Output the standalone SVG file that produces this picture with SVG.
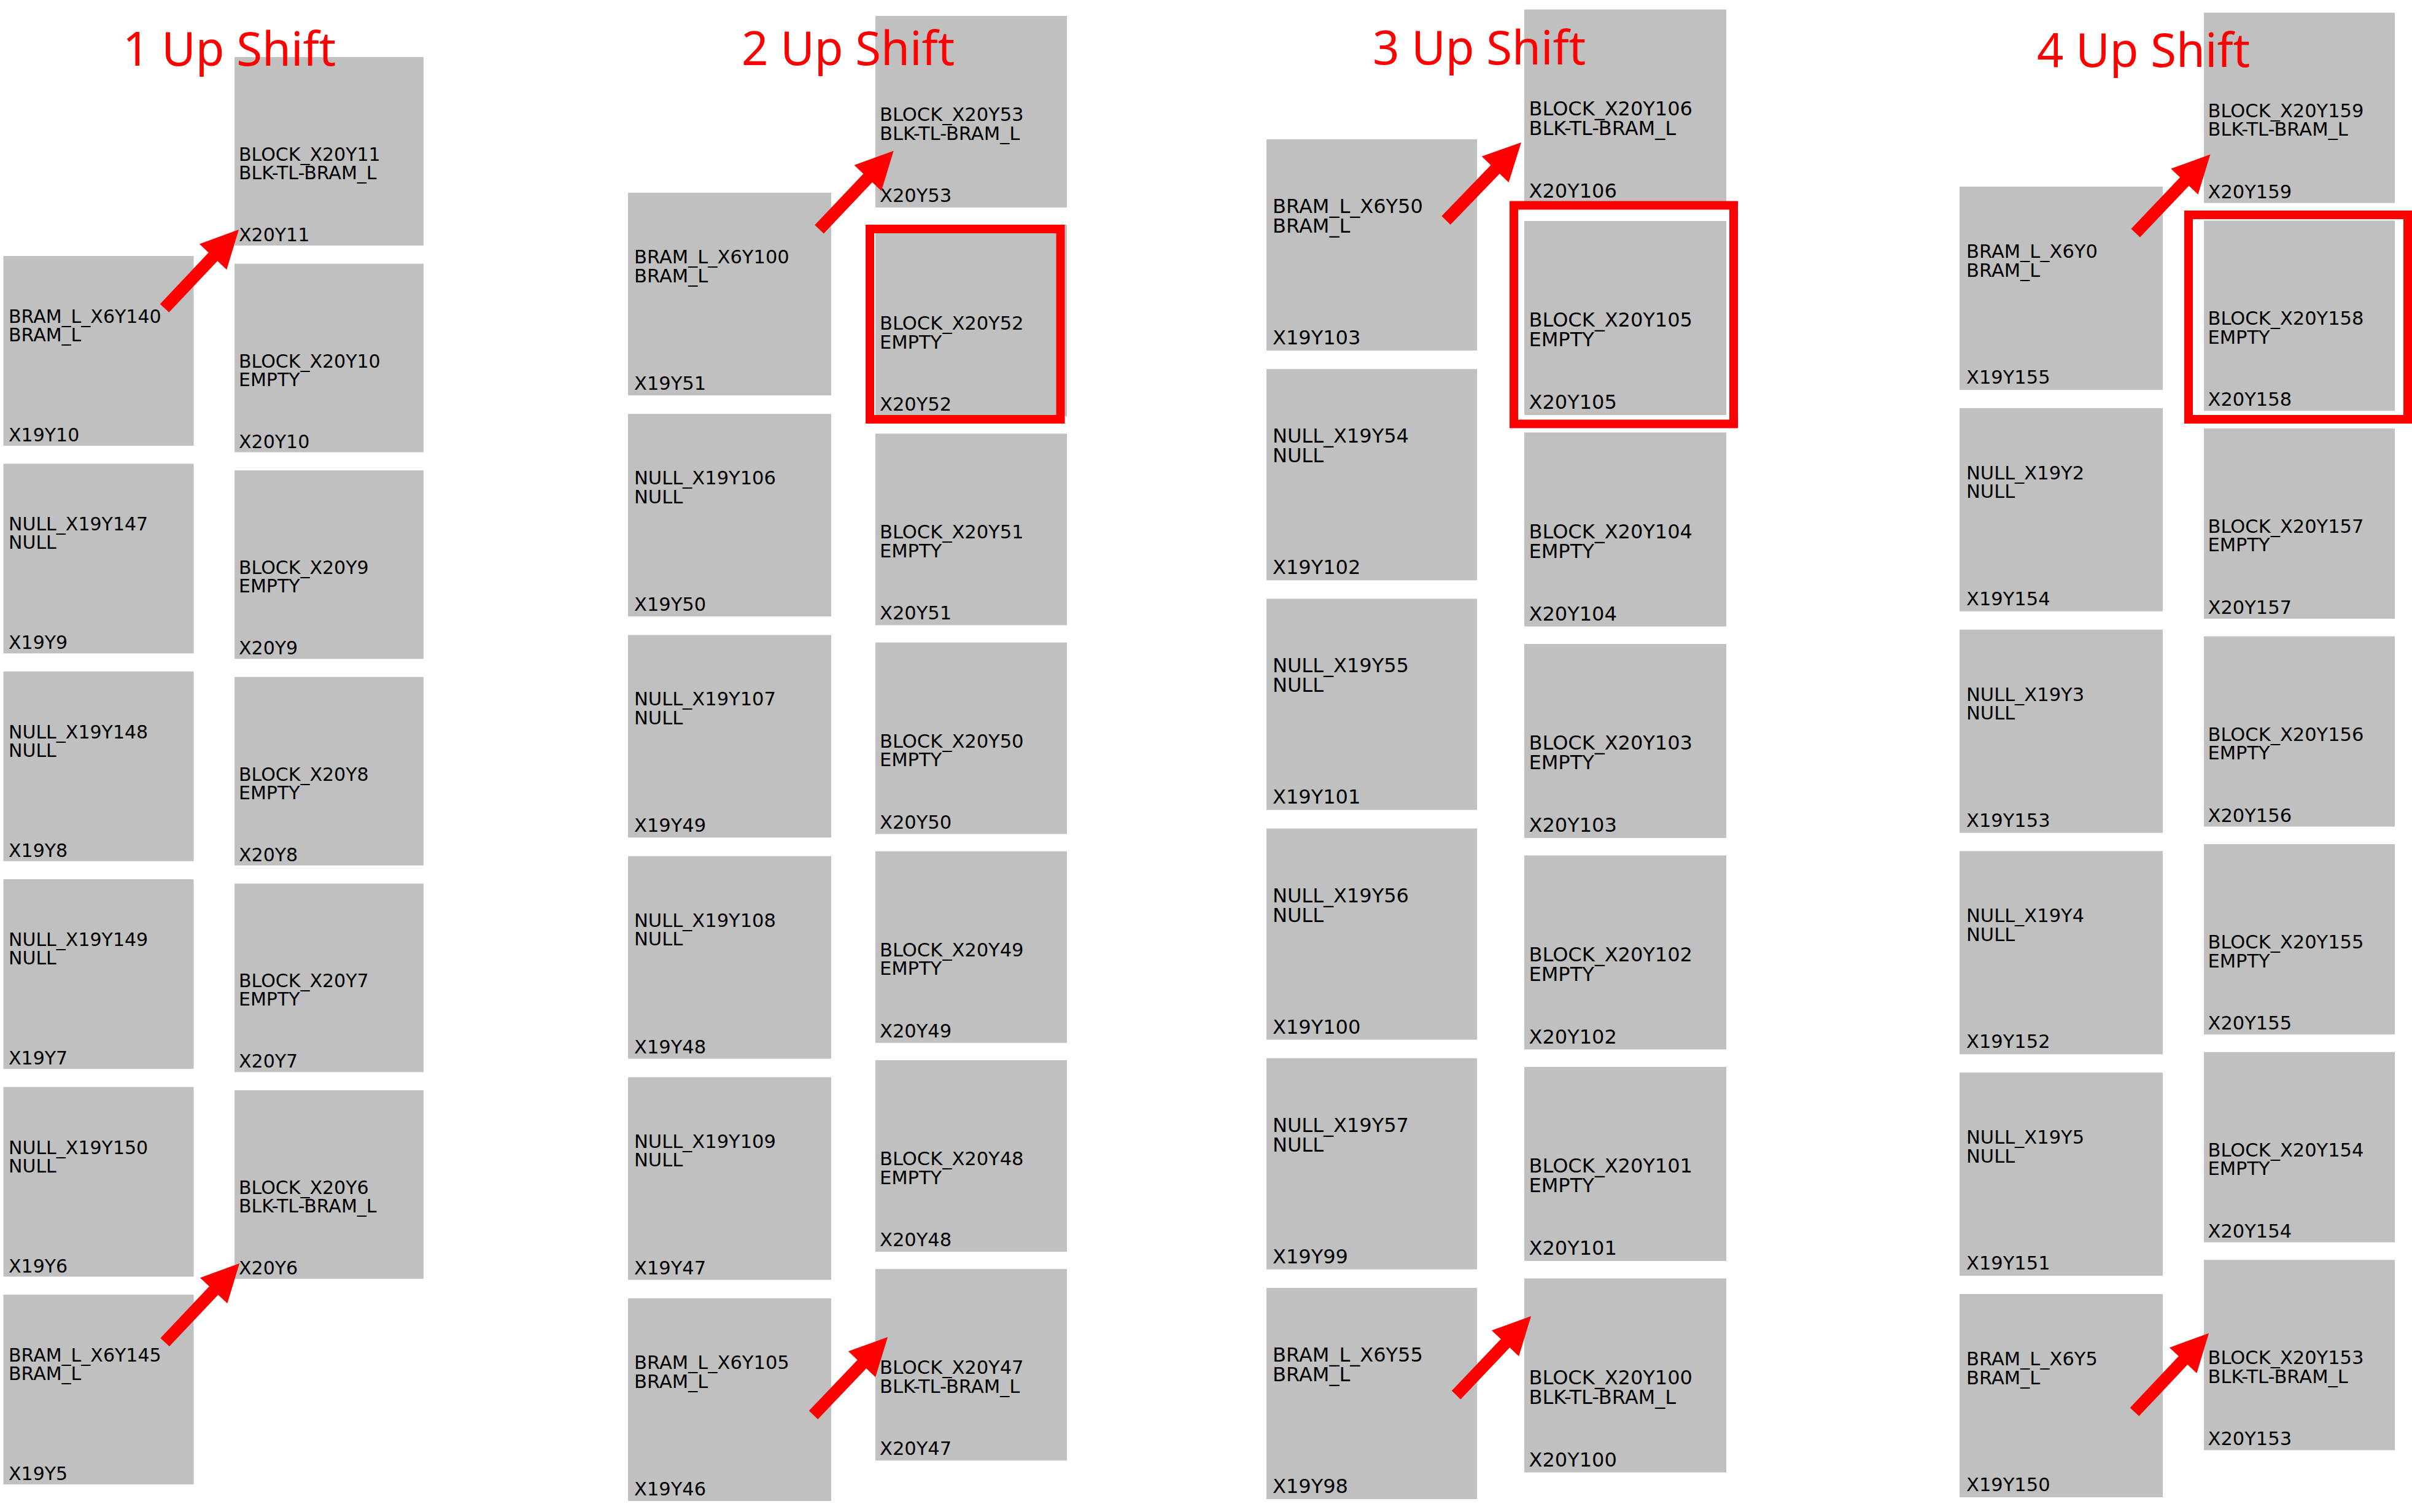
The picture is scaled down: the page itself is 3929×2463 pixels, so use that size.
<svg xmlns="http://www.w3.org/2000/svg" width="3929" height="2463" viewBox="0 0 3929 2463">
<style>
.bg{fill:#ffffff}
.box{fill:#c0c0c0}
.t{font-family:"DejaVu Sans","Liberation Sans",sans-serif;fill:#000000}
.f1{font-size:30px}
.f2{font-size:30.5px}
.f3{font-size:32px}
.f4{font-size:30.5px}
.title{font-family:"Noto Sans","Liberation Sans",sans-serif;font-size:76px;fill:#ff0000}
.hl{fill:none;stroke:#ff0000;stroke-width:14}
.arr{stroke:#ff0000;stroke-width:20;stroke-linecap:butt;fill:none;marker-end:url(#head)}
</style>
<defs>
<marker id="head" markerUnits="userSpaceOnUse" markerWidth="61" markerHeight="61" refX="30.5" refY="30.5" orient="auto" overflow="visible">
<path d="M0,0 L61,30.5 L0,61 Z" fill="#ff0000"/>
</marker>
</defs>
<rect class="bg" x="0" y="0" width="3929" height="2463"/>

<!-- Panel 1 left -->
<g id="p1-X19Y10" class="t f1" transform="translate(5.5,417)"><rect class="box" width="310" height="309"/><text><tspan x="8.5" y="109">BRAM_L_X6Y140</tspan><tspan x="8.5" dy="30">BRAM_L</tspan></text><text x="8.5" y="302">X19Y10</text></g>
<g id="p1-X19Y9" class="t f1" transform="translate(5.5,755.4)"><rect class="box" width="310" height="309"/><text><tspan x="8.5" y="109">NULL_X19Y147</tspan><tspan x="8.5" dy="30">NULL</tspan></text><text x="8.5" y="302">X19Y9</text></g>
<g id="p1-X19Y8" class="t f1" transform="translate(5.5,1093.8)"><rect class="box" width="310" height="309"/><text><tspan x="8.5" y="109">NULL_X19Y148</tspan><tspan x="8.5" dy="30">NULL</tspan></text><text x="8.5" y="302">X19Y8</text></g>
<g id="p1-X19Y7" class="t f1" transform="translate(5.5,1432.2)"><rect class="box" width="310" height="309"/><text><tspan x="8.5" y="109">NULL_X19Y149</tspan><tspan x="8.5" dy="30">NULL</tspan></text><text x="8.5" y="302">X19Y7</text></g>
<g id="p1-X19Y6" class="t f1" transform="translate(5.5,1770.6)"><rect class="box" width="310" height="309"/><text><tspan x="8.5" y="109">NULL_X19Y150</tspan><tspan x="8.5" dy="30">NULL</tspan></text><text x="8.5" y="302">X19Y6</text></g>
<g id="p1-X19Y5" class="t f1" transform="translate(5.5,2109)"><rect class="box" width="310" height="309"/><text><tspan x="8.5" y="109">BRAM_L_X6Y145</tspan><tspan x="8.5" dy="30">BRAM_L</tspan></text><text x="8.5" y="302">X19Y5</text></g>
<!-- Panel 1 right -->
<g id="p1-X20Y11" class="t f1" transform="translate(382,93)"><rect class="box" width="308" height="307"/><text><tspan x="7" y="169">BLOCK_X20Y11</tspan><tspan x="7" dy="30">BLK-TL-BRAM_L</tspan></text><text x="7" y="300">X20Y11</text></g>
<g id="p1-X20Y10" class="t f1" transform="translate(382,429.6)"><rect class="box" width="308" height="307"/><text><tspan x="7" y="169">BLOCK_X20Y10</tspan><tspan x="7" dy="30">EMPTY</tspan></text><text x="7" y="300">X20Y10</text></g>
<g id="p1-X20Y9" class="t f1" transform="translate(382,766.2)"><rect class="box" width="308" height="307"/><text><tspan x="7" y="169">BLOCK_X20Y9</tspan><tspan x="7" dy="30">EMPTY</tspan></text><text x="7" y="300">X20Y9</text></g>
<g id="p1-X20Y8" class="t f1" transform="translate(382,1102.8)"><rect class="box" width="308" height="307"/><text><tspan x="7" y="169">BLOCK_X20Y8</tspan><tspan x="7" dy="30">EMPTY</tspan></text><text x="7" y="300">X20Y8</text></g>
<g id="p1-X20Y7" class="t f1" transform="translate(382,1439.4)"><rect class="box" width="308" height="307"/><text><tspan x="7" y="169">BLOCK_X20Y7</tspan><tspan x="7" dy="30">EMPTY</tspan></text><text x="7" y="300">X20Y7</text></g>
<g id="p1-X20Y6" class="t f1" transform="translate(382,1776)"><rect class="box" width="308" height="307"/><text><tspan x="7" y="169">BLOCK_X20Y6</tspan><tspan x="7" dy="30">BLK-TL-BRAM_L</tspan></text><text x="7" y="300">X20Y6</text></g>

<!-- Panel 2 left -->
<g id="p2-X19Y51" class="t f2" transform="translate(1023,314)"><rect class="box" width="331" height="330"/><text><tspan x="10" y="115">BRAM_L_X6Y100</tspan><tspan x="10" dy="30.5">BRAM_L</tspan></text><text x="10" y="321">X19Y51</text></g>
<g id="p2-X19Y50" class="t f2" transform="translate(1023,674.2)"><rect class="box" width="331" height="330"/><text><tspan x="10" y="115">NULL_X19Y106</tspan><tspan x="10" dy="30.5">NULL</tspan></text><text x="10" y="321">X19Y50</text></g>
<g id="p2-X19Y49" class="t f2" transform="translate(1023,1034.4)"><rect class="box" width="331" height="330"/><text><tspan x="10" y="115">NULL_X19Y107</tspan><tspan x="10" dy="30.5">NULL</tspan></text><text x="10" y="321">X19Y49</text></g>
<g id="p2-X19Y48" class="t f2" transform="translate(1023,1394.6)"><rect class="box" width="331" height="330"/><text><tspan x="10" y="115">NULL_X19Y108</tspan><tspan x="10" dy="30.5">NULL</tspan></text><text x="10" y="321">X19Y48</text></g>
<g id="p2-X19Y47" class="t f2" transform="translate(1023,1754.8)"><rect class="box" width="331" height="330"/><text><tspan x="10" y="115">NULL_X19Y109</tspan><tspan x="10" dy="30.5">NULL</tspan></text><text x="10" y="321">X19Y47</text></g>
<g id="p2-X19Y46" class="t f2" transform="translate(1023,2115)"><rect class="box" width="331" height="330"/><text><tspan x="10" y="115">BRAM_L_X6Y105</tspan><tspan x="10" dy="30.5">BRAM_L</tspan></text><text x="10" y="321">X19Y46</text></g>
<!-- Panel 2 right -->
<g id="p2-X20Y53" class="t f2" transform="translate(1426,26)"><rect class="box" width="312" height="312"/><text><tspan x="7" y="171">BLOCK_X20Y53</tspan><tspan x="7" dy="30.5">BLK-TL-BRAM_L</tspan></text><text x="7" y="303">X20Y53</text></g>
<g id="p2-X20Y52" class="t f2" transform="translate(1426,366.2)"><rect class="box" width="312" height="312"/><text><tspan x="7" y="171">BLOCK_X20Y52</tspan><tspan x="7" dy="30.5">EMPTY</tspan></text><text x="7" y="303">X20Y52</text></g>
<g id="p2-X20Y51" class="t f2" transform="translate(1426,706.4)"><rect class="box" width="312" height="312"/><text><tspan x="7" y="171">BLOCK_X20Y51</tspan><tspan x="7" dy="30.5">EMPTY</tspan></text><text x="7" y="303">X20Y51</text></g>
<g id="p2-X20Y50" class="t f2" transform="translate(1426,1046.6)"><rect class="box" width="312" height="312"/><text><tspan x="7" y="171">BLOCK_X20Y50</tspan><tspan x="7" dy="30.5">EMPTY</tspan></text><text x="7" y="303">X20Y50</text></g>
<g id="p2-X20Y49" class="t f2" transform="translate(1426,1386.8)"><rect class="box" width="312" height="312"/><text><tspan x="7" y="171">BLOCK_X20Y49</tspan><tspan x="7" dy="30.5">EMPTY</tspan></text><text x="7" y="303">X20Y49</text></g>
<g id="p2-X20Y48" class="t f2" transform="translate(1426,1727)"><rect class="box" width="312" height="312"/><text><tspan x="7" y="171">BLOCK_X20Y48</tspan><tspan x="7" dy="30.5">EMPTY</tspan></text><text x="7" y="303">X20Y48</text></g>
<g id="p2-X20Y47" class="t f2" transform="translate(1426,2067.2)"><rect class="box" width="312" height="312"/><text><tspan x="7" y="171">BLOCK_X20Y47</tspan><tspan x="7" dy="30.5">BLK-TL-BRAM_L</tspan></text><text x="7" y="303">X20Y47</text></g>

<!-- Panel 3 left -->
<g id="p3-X19Y103" class="t f3" transform="translate(2063,227)"><rect class="box" width="343" height="344"/><text><tspan x="10" y="120">BRAM_L_X6Y50</tspan><tspan x="10" dy="32">BRAM_L</tspan></text><text x="10" y="334">X19Y103</text></g>
<g id="p3-X19Y102" class="t f3" transform="translate(2063,601.2)"><rect class="box" width="343" height="344"/><text><tspan x="10" y="120">NULL_X19Y54</tspan><tspan x="10" dy="32">NULL</tspan></text><text x="10" y="334">X19Y102</text></g>
<g id="p3-X19Y101" class="t f3" transform="translate(2063,975.4)"><rect class="box" width="343" height="344"/><text><tspan x="10" y="120">NULL_X19Y55</tspan><tspan x="10" dy="32">NULL</tspan></text><text x="10" y="334">X19Y101</text></g>
<g id="p3-X19Y100" class="t f3" transform="translate(2063,1349.6)"><rect class="box" width="343" height="344"/><text><tspan x="10" y="120">NULL_X19Y56</tspan><tspan x="10" dy="32">NULL</tspan></text><text x="10" y="334">X19Y100</text></g>
<g id="p3-X19Y99" class="t f3" transform="translate(2063,1723.8)"><rect class="box" width="343" height="344"/><text><tspan x="10" y="120">NULL_X19Y57</tspan><tspan x="10" dy="32">NULL</tspan></text><text x="10" y="334">X19Y99</text></g>
<g id="p3-X19Y98" class="t f3" transform="translate(2063,2098)"><rect class="box" width="343" height="344"/><text><tspan x="10" y="120">BRAM_L_X6Y55</tspan><tspan x="10" dy="32">BRAM_L</tspan></text><text x="10" y="334">X19Y98</text></g>
<!-- Panel 3 right -->
<g id="p3-X20Y106" class="t f3" transform="translate(2483,15.5)"><rect class="box" width="329" height="316"/><text><tspan x="7.5" y="172">BLOCK_X20Y106</tspan><tspan x="7.5" dy="32">BLK-TL-BRAM_L</tspan></text><text x="7.5" y="306">X20Y106</text></g>
<g id="p3-X20Y105" class="t f3" transform="translate(2483,360)"><rect class="box" width="329" height="316"/><text><tspan x="7.5" y="172">BLOCK_X20Y105</tspan><tspan x="7.5" dy="32">EMPTY</tspan></text><text x="7.5" y="306">X20Y105</text></g>
<g id="p3-X20Y104" class="t f3" transform="translate(2483,704.5)"><rect class="box" width="329" height="316"/><text><tspan x="7.5" y="172">BLOCK_X20Y104</tspan><tspan x="7.5" dy="32">EMPTY</tspan></text><text x="7.5" y="306">X20Y104</text></g>
<g id="p3-X20Y103" class="t f3" transform="translate(2483,1049)"><rect class="box" width="329" height="316"/><text><tspan x="7.5" y="172">BLOCK_X20Y103</tspan><tspan x="7.5" dy="32">EMPTY</tspan></text><text x="7.5" y="306">X20Y103</text></g>
<g id="p3-X20Y102" class="t f3" transform="translate(2483,1393.5)"><rect class="box" width="329" height="316"/><text><tspan x="7.5" y="172">BLOCK_X20Y102</tspan><tspan x="7.5" dy="32">EMPTY</tspan></text><text x="7.5" y="306">X20Y102</text></g>
<g id="p3-X20Y101" class="t f3" transform="translate(2483,1738)"><rect class="box" width="329" height="316"/><text><tspan x="7.5" y="172">BLOCK_X20Y101</tspan><tspan x="7.5" dy="32">EMPTY</tspan></text><text x="7.5" y="306">X20Y101</text></g>
<g id="p3-X20Y100" class="t f3" transform="translate(2483,2082.5)"><rect class="box" width="329" height="316"/><text><tspan x="7.5" y="172">BLOCK_X20Y100</tspan><tspan x="7.5" dy="32">BLK-TL-BRAM_L</tspan></text><text x="7.5" y="306">X20Y100</text></g>

<!-- Panel 4 left -->
<g id="p4-X19Y155" class="t f4" transform="translate(3192,304)"><rect class="box" width="331" height="331"/><text><tspan x="11" y="116">BRAM_L_X6Y0</tspan><tspan x="11" dy="30.5">BRAM_L</tspan></text><text x="11" y="321">X19Y155</text></g>
<g id="p4-X19Y154" class="t f4" transform="translate(3192,664.8)"><rect class="box" width="331" height="331"/><text><tspan x="11" y="116">NULL_X19Y2</tspan><tspan x="11" dy="30.5">NULL</tspan></text><text x="11" y="321">X19Y154</text></g>
<g id="p4-X19Y153" class="t f4" transform="translate(3192,1025.6)"><rect class="box" width="331" height="331"/><text><tspan x="11" y="116">NULL_X19Y3</tspan><tspan x="11" dy="30.5">NULL</tspan></text><text x="11" y="321">X19Y153</text></g>
<g id="p4-X19Y152" class="t f4" transform="translate(3192,1386.4)"><rect class="box" width="331" height="331"/><text><tspan x="11" y="116">NULL_X19Y4</tspan><tspan x="11" dy="30.5">NULL</tspan></text><text x="11" y="321">X19Y152</text></g>
<g id="p4-X19Y151" class="t f4" transform="translate(3192,1747.2)"><rect class="box" width="331" height="331"/><text><tspan x="11" y="116">NULL_X19Y5</tspan><tspan x="11" dy="30.5">NULL</tspan></text><text x="11" y="321">X19Y151</text></g>
<g id="p4-X19Y150" class="t f4" transform="translate(3192,2108)"><rect class="box" width="331" height="331"/><text><tspan x="11" y="116">BRAM_L_X6Y5</tspan><tspan x="11" dy="30.5">BRAM_L</tspan></text><text x="11" y="321">X19Y150</text></g>
<!-- Panel 4 right -->
<g id="p4-X20Y159" class="t f4" transform="translate(3590,20.7)"><rect class="box" width="311" height="310"/><text><tspan x="6.5" y="170">BLOCK_X20Y159</tspan><tspan x="6.5" dy="30.5">BLK-TL-BRAM_L</tspan></text><text x="6.5" y="302">X20Y159</text></g>
<g id="p4-X20Y158" class="t f4" transform="translate(3590,359.3)"><rect class="box" width="311" height="310"/><text><tspan x="6.5" y="170">BLOCK_X20Y158</tspan><tspan x="6.5" dy="30.5">EMPTY</tspan></text><text x="6.5" y="302">X20Y158</text></g>
<g id="p4-X20Y157" class="t f4" transform="translate(3590,697.9)"><rect class="box" width="311" height="310"/><text><tspan x="6.5" y="170">BLOCK_X20Y157</tspan><tspan x="6.5" dy="30.5">EMPTY</tspan></text><text x="6.5" y="302">X20Y157</text></g>
<g id="p4-X20Y156" class="t f4" transform="translate(3590,1036.5)"><rect class="box" width="311" height="310"/><text><tspan x="6.5" y="170">BLOCK_X20Y156</tspan><tspan x="6.5" dy="30.5">EMPTY</tspan></text><text x="6.5" y="302">X20Y156</text></g>
<g id="p4-X20Y155" class="t f4" transform="translate(3590,1375.1)"><rect class="box" width="311" height="310"/><text><tspan x="6.5" y="170">BLOCK_X20Y155</tspan><tspan x="6.5" dy="30.5">EMPTY</tspan></text><text x="6.5" y="302">X20Y155</text></g>
<g id="p4-X20Y154" class="t f4" transform="translate(3590,1713.7)"><rect class="box" width="311" height="310"/><text><tspan x="6.5" y="170">BLOCK_X20Y154</tspan><tspan x="6.5" dy="30.5">EMPTY</tspan></text><text x="6.5" y="302">X20Y154</text></g>
<g id="p4-X20Y153" class="t f4" transform="translate(3590,2052.3)"><rect class="box" width="311" height="310"/><text><tspan x="6.5" y="170">BLOCK_X20Y153</tspan><tspan x="6.5" dy="30.5">BLK-TL-BRAM_L</tspan></text><text x="6.5" y="302">X20Y153</text></g>

<!-- Highlight frames -->
<g id="highlights">
<rect class="hl" x="1417" y="373" width="310.5" height="310"/>
<rect class="hl" x="2466" y="334.5" width="358" height="356"/>
<rect class="hl" x="3565" y="350" width="357" height="333"/>
</g>

<!-- Connectors -->
<g id="connectors">
<line class="arr" x1="268" y1="502" x2="368.0" y2="396.2"/>
<line class="arr" x1="268.6" y1="2186.5" x2="369.1" y2="2080.2"/>
<line class="arr" x1="1334.5" y1="373.5" x2="1434.6" y2="267.8"/>
<line class="arr" x1="1325" y1="2305" x2="1425.0" y2="2200.1"/>
<line class="arr" x1="2355.5" y1="359" x2="2456.8" y2="254.0"/>
<line class="arr" x1="2372" y1="2272.5" x2="2473.0" y2="2166.1"/>
<line class="arr" x1="3478.7" y1="379.7" x2="3579.4" y2="273.7"/>
<line class="arr" x1="3477" y1="2300" x2="3577.1" y2="2193.9"/>
</g>

<!-- Titles -->
<g id="titles">
<text class="title" x="200" y="107">1 Up Shift</text>
<text class="title" x="1208" y="106">2 Up Shift</text>
<text class="title" x="2236" y="105">3 Up Shift</text>
<text class="title" x="3318" y="109">4 Up Shift</text>
</g>
</svg>
